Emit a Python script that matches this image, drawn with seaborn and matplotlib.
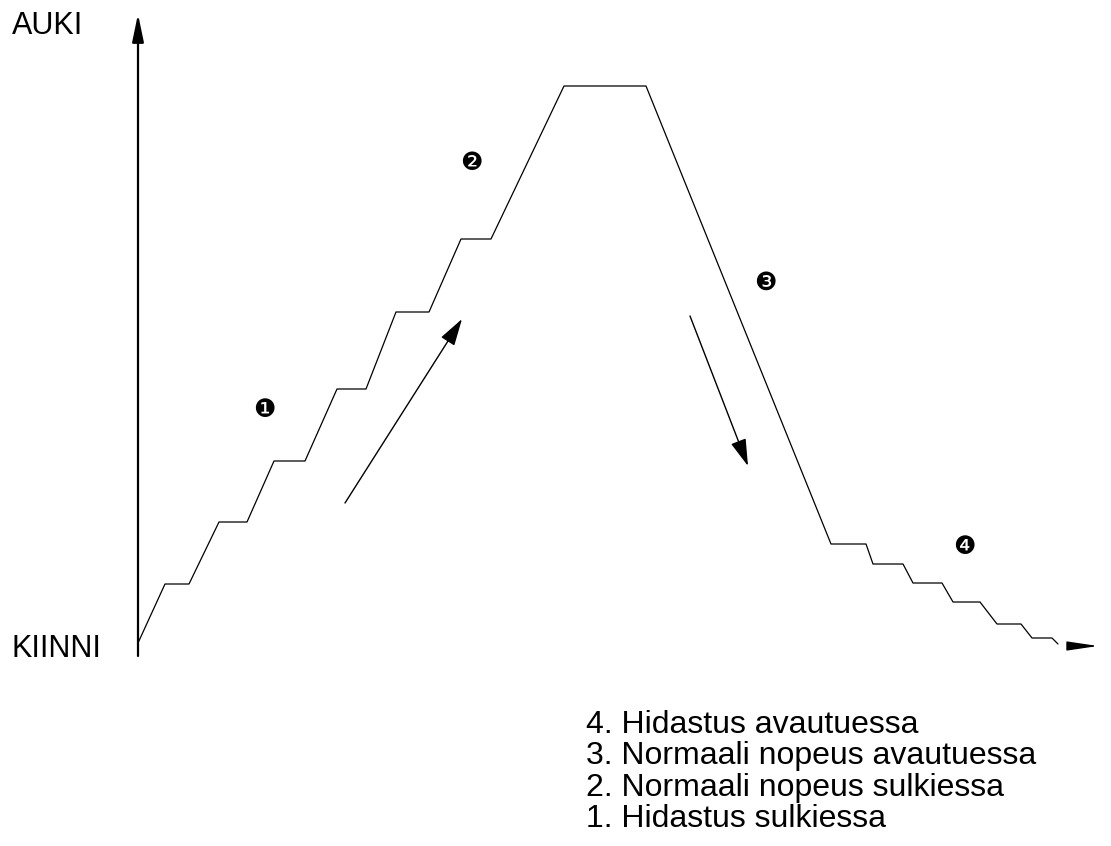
import pandas as pd
import numpy as np

import seaborn as sns
import matplotlib.pyplot as plt

# valve position profile (x = time, y = position, screen units)
path_x = [138, 165, 189, 219, 247, 274, 305, 337, 366, 396, 429, 461, 491,
          564, 646, 831, 866, 873, 903, 913, 942, 953, 980, 997, 1021, 1032, 1052, 1058]
path_y = [643, 584, 584, 522, 522, 461, 461, 389, 389, 312, 312, 239, 239,
          86, 86, 544, 544, 564, 564, 583, 583, 602, 602, 624, 624, 638, 638, 644]

phase_marks = ["\u2776", "\u2777", "\u2778", "\u2779"]
mark_x = [264, 471, 765, 964]
mark_y = [410, 163, 283, 547]

legend_lines = ["4. Hidastus avautuessa",
                "3. Normaali nopeus avautuessa",
                "2. Normaali nopeus sulkiessa",
                "1. Hidastus sulkiessa"]
legend_y = [733, 764, 796, 827]

sns.set_style("white")
plt.rcParams['font.family'] = ['Liberation Sans', 'DejaVu Sans']
plt.rcParams['text.color'] = 'black'

fig = plt.figure(figsize=(11.11, 8.46), dpi=100)
ax = fig.add_axes([0, 0, 1, 1])
ax.set_xlim(0, 1111)
ax.set_ylim(846, 0)
ax.axis("off")

df = pd.DataFrame({"t": path_x, "pos": path_y})
sns.lineplot(data=df, x="t", y="pos", sort=False, color="black", lw=0.9, ax=ax)

# vertical axis with arrow
ax.annotate("", xy=(138, 14), xytext=(138, 656),
            arrowprops=dict(arrowstyle="-|>,head_length=1.2,head_width=0.25",
                            mutation_scale=14, color="black", lw=1.6,
                            shrinkA=0, shrinkB=0))
# time arrowhead at bottom right
ax.annotate("", xy=(1098, 646), xytext=(1071, 646),
            arrowprops=dict(arrowstyle="-|>,head_length=1.35,head_width=0.2",
                            mutation_scale=14, color="black", lw=1,
                            shrinkA=0, shrinkB=0))
# direction arrows
ax.annotate("", xy=(462, 319), xytext=(345, 503),
            arrowprops=dict(arrowstyle="-|>,head_length=1.2,head_width=0.35",
                            mutation_scale=14, color="black", lw=1,
                            shrinkA=0, shrinkB=0))
ax.annotate("", xy=(748, 466), xytext=(690, 316),
            arrowprops=dict(arrowstyle="-|>,head_length=1.2,head_width=0.35",
                            mutation_scale=14, color="black", lw=1,
                            shrinkA=0, shrinkB=0))

ax.text(12, 34, "AUKI", fontsize=22, ha="left", va="baseline")
ax.text(12, 657, "KIINNI", fontsize=22, ha="left", va="baseline")

for m, x, y in zip(phase_marks, mark_x, mark_y):
    ax.text(x, y, m, fontsize=18, ha="center", va="center", family="DejaVu Sans")

for line, y in zip(legend_lines, legend_y):
    ax.text(586, y, line, fontsize=23, ha="left", va="baseline")

plt.savefig("out.png", dpi=100)
plt.close()
